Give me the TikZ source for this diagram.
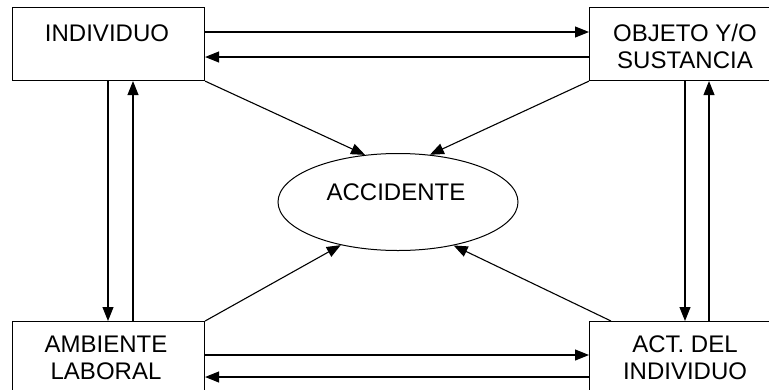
\documentclass[tikz,border=0pt]{standalone}
\usepackage{fontspec}
\setmainfont{Liberation Sans}
\usetikzlibrary{shapes.geometric,arrows.meta}
\begin{document}
\begin{tikzpicture}[x=1pt,y=-1pt,
  box/.style={draw,line width=1.1pt,minimum width=192pt,minimum height=73pt,inner sep=0pt,anchor=north west},
  lbl/.style={font=\fontsize{24}{27}\selectfont,inner sep=0pt,align=center,anchor=base},
  arr/.style={line width=1.1pt,-{Triangle[length=14pt,width=11pt]}}]
  \useasboundingbox (0,0) rectangle (769,389);
  \clip (0,0) rectangle (769,389);
  % the four boxes
  \node[box] (ind) at (12,7) {};
  \node[box] (obj) at (589,7) {};
  \node[box] (amb) at (12,321) {};
  \node[box] (act) at (589,321) {};
  % their labels
  \node[lbl] (tind) at (107,41) {INDIVIDUO};
  \node[lbl] (tobj1) at (685,41) {OBJETO Y/O};
  \node[lbl] (tobj2) at (685,68) {SUSTANCIA};
  \node[lbl] (tamb1) at (106,352) {AMBIENTE};
  \node[lbl] (tamb2) at (106,379) {LABORAL};
  \node[lbl] (tact1) at (685,352) {ACT. DEL};
  \node[lbl] (tact2) at (685,379) {INDIVIDUO};
  % the central ellipse
  \node[draw,ellipse,line width=1pt,minimum width=240pt,minimum height=97pt,inner sep=0pt] (acc) at (398,202) {};
  \node[lbl] (tacc) at (396,200) {ACCIDENTE};
  % top pair
  \draw[arr] (ind.east |- 0,32) -- (obj.west |- 0,32);
  \draw[arr] (obj.west |- 0,57) -- (ind.east |- 0,57);
  % bottom pair
  \draw[arr] (amb.east |- 0,355) -- (act.west |- 0,355);
  \draw[arr] (act.west |- 0,377) -- (amb.east |- 0,377);
  % left pair
  \draw[arr] (ind.south -| 108,0) -- (amb.north -| 108,0);
  \draw[arr] (amb.north -| 133,0) -- (ind.south -| 133,0);
  % right pair
  \draw[arr] (obj.south -| 685,0) -- (act.north -| 685,0);
  \draw[arr] (act.north -| 709,0) -- (obj.south -| 709,0);
  % into the accident
  \draw[arr] (ind.south east) -- (acc.125);
  \draw[arr] (obj.south west) -- (acc.56);
  \draw[arr] (amb.north east) -- (acc.217);
  \draw[arr] ([xshift=22pt]act.north west) -- (acc.322);
\end{tikzpicture}
\end{document}
